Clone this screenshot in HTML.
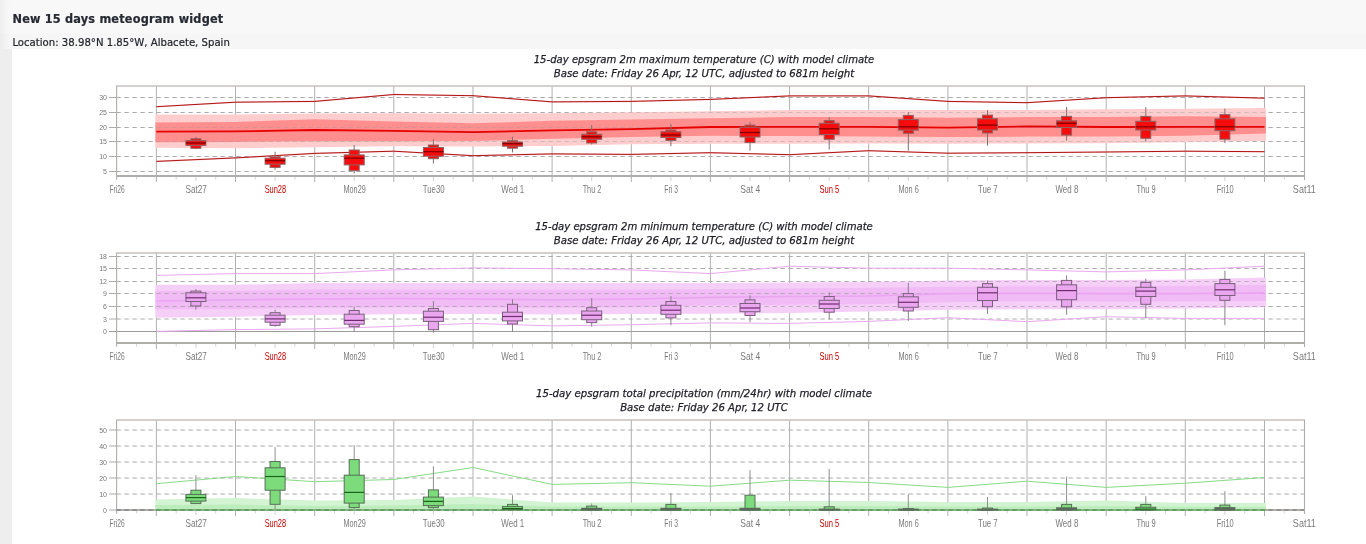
<!DOCTYPE html>
<html lang="en"><head><meta charset="utf-8"><title>New 15 days meteogram widget</title>
<style>
html,body{margin:0;padding:0;}
body{width:1366px;height:544px;overflow:hidden;background:#f0f0f0;position:relative;font-family:"DejaVu Sans","Liberation Sans",sans-serif;}
#hd1{position:absolute;left:0;top:0;width:1366px;height:33px;background:#f8f8f8;}
#hd2{position:absolute;left:0;top:33px;width:1366px;height:16px;background:#f6f6f6;}
#side{position:absolute;left:0;top:48.8px;width:12px;height:496px;background:#eeeeee;}
#shade{position:absolute;left:0;top:0;width:10px;height:48.8px;background:linear-gradient(to right,rgba(0,0,0,0.04),rgba(0,0,0,0));}
#panel{position:absolute;left:12px;top:48.8px;width:1354px;height:496px;background:#fff;}
h1{position:absolute;left:12.5px;top:10.2px;margin:0;font-family:"DejaVu Sans Condensed","DejaVu Sans","Liberation Sans",sans-serif;font-size:12.6px;line-height:18px;font-weight:bold;color:#262a33;white-space:nowrap;letter-spacing:0.18px;-webkit-text-stroke:0.2px #262a33;}
#loc{position:absolute;left:12.4px;top:36px;margin:0;font-size:10.15px;line-height:13px;color:#22252c;white-space:nowrap;-webkit-text-stroke:0.2px #22252c;}
svg{position:absolute;left:0;top:0;}
.t{font-family:"DejaVu Sans","Liberation Sans",sans-serif;font-style:italic;font-size:10.6px;fill:#1c1c26;stroke:#1c1c26;stroke-width:0.25px;text-anchor:middle;}
.xl{font-family:"Liberation Sans",sans-serif;font-size:10.8px;fill:#7a7a7a;text-anchor:middle;}
.xs{fill:#cc0000;}
.yl{font-family:"Liberation Sans",sans-serif;font-size:7px;fill:#777;text-anchor:end;}
</style></head><body>
<div id="hd1"></div><div id="hd2"></div><div id="side"></div><div id="shade"></div><div id="panel"></div>
<h1>New 15 days meteogram widget</h1>
<p id="loc">Location: 38.98°N 1.85°W, Albacete, Spain</p>
<svg width="1366" height="544" viewBox="0 0 1366 544">
<g>
<text class="t" x="704" y="63.0" textLength="340.6" lengthAdjust="spacingAndGlyphs">15-day epsgram 2m maximum temperature (C) with model climate</text>
<text class="t" x="704" y="76.8" textLength="300.6" lengthAdjust="spacingAndGlyphs">Base date: Friday 26 Apr, 12 UTC, adjusted to 681m height</text>
<path d="M156.4 86.0V182.0M235.5 86.0V182.0M314.7 86.0V182.0M393.8 86.0V182.0M473.0 86.0V182.0M552.1 86.0V182.0M631.3 86.0V182.0M710.4 86.0V182.0M789.6 86.0V182.0M868.7 86.0V182.0M947.9 86.0V182.0M1027.0 86.0V182.0M1106.2 86.0V182.0M1185.3 86.0V182.0M1264.5 86.0V182.0" stroke="#b0b0b0" stroke-width="1" fill="none"/>
<path d="M116.4 97.5H1304.0M116.4 112.5H1304.0M116.4 127.5H1304.0M116.4 141.5H1304.0M116.4 156.5H1304.0M116.4 171.5H1304.0" stroke="#acacac" stroke-width="1" stroke-dasharray="4.4 3.6" fill="none"/>
<path d="M109 97.5H116.8M109 112.5H116.8M109 127.5H116.8M109 141.5H116.8M109 156.5H116.8M109 171.5H116.8" stroke="#acacac" stroke-width="1" fill="none"/>
<clipPath id="cb0"><polygon points="155.4,114.6 235.5,114.6 314.7,113.5 393.8,113.3 473.0,113.7 552.1,113.3 631.3,112.3 710.4,111.2 789.6,110.1 868.7,110.0 947.9,110.0 1027.0,110.0 1106.2,109.2 1185.3,108.7 1265.9,108.0 1265.9,140.7 1185.3,142.3 1106.2,143.2 1027.0,143.6 947.9,143.8 868.7,143.6 789.6,143.7 710.4,143.8 631.3,144.2 552.1,146.1 473.0,146.4 393.8,146.3 314.7,147.2 235.5,148.2 155.4,147.8"/></clipPath>
<polygon points="155.4,114.6 235.5,114.6 314.7,113.5 393.8,113.3 473.0,113.7 552.1,113.3 631.3,112.3 710.4,111.2 789.6,110.1 868.7,110.0 947.9,110.0 1027.0,110.0 1106.2,109.2 1185.3,108.7 1265.9,108.0 1265.9,140.7 1185.3,142.3 1106.2,143.2 1027.0,143.6 947.9,143.8 868.7,143.6 789.6,143.7 710.4,143.8 631.3,144.2 552.1,146.1 473.0,146.4 393.8,146.3 314.7,147.2 235.5,148.2 155.4,147.8" fill="#ffcdcd"/>
<polygon points="155.4,122.4 235.5,122.0 314.7,119.3 393.8,121.4 473.0,123.3 552.1,120.8 631.3,119.5 710.4,118.3 789.6,117.1 868.7,117.1 947.9,117.7 1027.0,117.1 1106.2,117.1 1185.3,116.2 1265.9,117.1 1265.9,133.6 1185.3,135.7 1106.2,136.6 1027.0,136.6 947.9,137.0 868.7,136.6 789.6,136.1 710.4,135.7 631.3,137.0 552.1,138.8 473.0,141.1 393.8,141.3 314.7,141.3 235.5,142.0 155.4,142.3" fill="#ff8e8e"/>
<path d="M116.4 97.5H1304.0M116.4 112.5H1304.0M116.4 127.5H1304.0M116.4 141.5H1304.0M116.4 156.5H1304.0M116.4 171.5H1304.0" stroke="#999999" stroke-opacity="0.42" stroke-width="1" stroke-dasharray="4.4 3.6" fill="none" clip-path="url(#cb0)"/>
<polyline points="156.4,131.6 235.5,131.4 314.7,130.0 393.8,130.8 473.0,132.2 552.1,130.4 631.3,129.1 710.4,127.0 789.6,126.9 868.7,126.8 947.9,127.6 1027.0,126.4 1106.2,127.0 1185.3,126.8 1264.5,126.8" stroke="#e60000" stroke-width="1.8" fill="none"/>
<polyline points="156.4,106.7 235.5,102.2 314.7,101.4 393.8,94.5 473.0,95.7 552.1,101.9 631.3,101.4 710.4,99.4 789.6,95.9 868.7,95.9 947.9,101.4 1027.0,102.7 1106.2,97.7 1185.3,95.9 1264.5,98.2" stroke="#f06a6a" stroke-width="1.6" stroke-opacity="0.3" fill="none"/>
<polyline points="156.4,106.7 235.5,102.2 314.7,101.4 393.8,94.5 473.0,95.7 552.1,101.9 631.3,101.4 710.4,99.4 789.6,95.9 868.7,95.9 947.9,101.4 1027.0,102.7 1106.2,97.7 1185.3,95.9 1264.5,98.2" stroke="#b01212" stroke-width="1" fill="none"/>
<polyline points="156.4,161.4 235.5,157.9 314.7,153.4 393.8,151.2 473.0,155.7 552.1,153.9 631.3,154.4 710.4,152.7 789.6,154.7 868.7,150.7 947.9,153.2 1027.0,152.7 1106.2,152.0 1185.3,151.2 1264.5,151.7" stroke="#f06a6a" stroke-width="1.6" stroke-opacity="0.3" fill="none"/>
<polyline points="156.4,161.4 235.5,157.9 314.7,153.4 393.8,151.2 473.0,155.7 552.1,153.9 631.3,154.4 710.4,152.7 789.6,154.7 868.7,150.7 947.9,153.2 1027.0,152.7 1106.2,152.0 1185.3,151.2 1264.5,151.7" stroke="#b01212" stroke-width="1" fill="none"/>
<path d="M116.1 86.0H1305.0" stroke="#c4c0bc" stroke-width="1.6" fill="none"/>
<path d="M116.6 86.0V179.7" stroke="#b0aeaa" stroke-width="1.1" fill="none"/>
<path d="M1304.5 86.0V180.0" stroke="#aeaca8" stroke-width="1.1" fill="none"/>
<path d="M116.1 176.0H1305.0" stroke="#b0aeaa" stroke-width="2" fill="none"/>
<path d="M136.6 177.0v2.5M176.2 177.0v2.5M215.7 177.0v2.5M255.3 177.0v2.5M294.9 177.0v2.5M334.5 177.0v2.5M374.0 177.0v2.5M413.6 177.0v2.5M453.2 177.0v2.5M492.8 177.0v2.5M532.3 177.0v2.5M571.9 177.0v2.5M611.5 177.0v2.5M651.1 177.0v2.5M690.6 177.0v2.5M730.2 177.0v2.5M769.8 177.0v2.5M809.4 177.0v2.5M848.9 177.0v2.5M888.5 177.0v2.5M928.1 177.0v2.5M967.7 177.0v2.5M1007.2 177.0v2.5M1046.8 177.0v2.5M1086.4 177.0v2.5M1126.0 177.0v2.5M1165.5 177.0v2.5M1205.1 177.0v2.5M1244.7 177.0v2.5M1284.3 177.0v2.5M195.9 177.0v4M275.1 177.0v4M354.2 177.0v4M433.4 177.0v4M512.5 177.0v4M591.7 177.0v4M670.9 177.0v4M750.0 177.0v4M829.2 177.0v4M908.3 177.0v4M987.5 177.0v4M1066.6 177.0v4M1145.8 177.0v4M1224.9 177.0v4" stroke="#d2d2d2" stroke-width="1" fill="none"/>
<path d="M195.9 136.8V149.2" stroke="#807070" stroke-width="1" fill="none"/>
<rect x="190.9" y="138.8" width="10" height="9.5" fill="#f60c0c" stroke="#8c6464" stroke-width="1"/>
<rect x="185.9" y="140.7" width="20" height="4.7" fill="#f60c0c" stroke="#8c6464" stroke-width="1"/>
<path d="M185.9 143.0H205.9" stroke="#7a0000" stroke-width="1.2" fill="none"/>
<path d="M275.1 151.7V169.9" stroke="#807070" stroke-width="1" fill="none"/>
<rect x="270.1" y="156.9" width="10" height="10.5" fill="#f60c0c" stroke="#8c6464" stroke-width="1"/>
<rect x="265.1" y="158.2" width="20" height="6.0" fill="#f60c0c" stroke="#8c6464" stroke-width="1"/>
<path d="M265.1 160.7H285.1" stroke="#7a0000" stroke-width="1.2" fill="none"/>
<path d="M354.2 145.0V173.6" stroke="#807070" stroke-width="1" fill="none"/>
<rect x="349.2" y="150.0" width="10" height="20.7" fill="#f60c0c" stroke="#8c6464" stroke-width="1"/>
<rect x="344.2" y="154.9" width="20" height="10.0" fill="#f60c0c" stroke="#8c6464" stroke-width="1"/>
<path d="M344.2 158.2H364.2" stroke="#7a0000" stroke-width="1.2" fill="none"/>
<path d="M433.4 139.3V163.6" stroke="#807070" stroke-width="1" fill="none"/>
<rect x="428.4" y="145.0" width="10" height="13.7" fill="#f60c0c" stroke="#8c6464" stroke-width="1"/>
<rect x="423.4" y="147.5" width="20" height="8.7" fill="#f60c0c" stroke="#8c6464" stroke-width="1"/>
<path d="M423.4 151.7H443.4" stroke="#7a0000" stroke-width="1.2" fill="none"/>
<path d="M512.5 136.8V152.4" stroke="#807070" stroke-width="1" fill="none"/>
<rect x="507.5" y="140.7" width="10" height="7.5" fill="#f60c0c" stroke="#8c6464" stroke-width="1"/>
<rect x="502.5" y="142.0" width="20" height="4.2" fill="#f60c0c" stroke="#8c6464" stroke-width="1"/>
<path d="M502.5 143.7H522.5" stroke="#7a0000" stroke-width="1.2" fill="none"/>
<path d="M591.7 125.1V144.5" stroke="#807070" stroke-width="1" fill="none"/>
<rect x="586.7" y="131.8" width="10" height="11.2" fill="#f60c0c" stroke="#8c6464" stroke-width="1"/>
<rect x="581.7" y="134.3" width="20" height="5.0" fill="#f60c0c" stroke="#8c6464" stroke-width="1"/>
<path d="M581.7 136.8H601.7" stroke="#7a0000" stroke-width="1.2" fill="none"/>
<path d="M670.9 123.8V146.2" stroke="#807070" stroke-width="1" fill="none"/>
<rect x="665.9" y="130.0" width="10" height="10.5" fill="#f60c0c" stroke="#8c6464" stroke-width="1"/>
<rect x="660.9" y="131.8" width="20" height="5.7" fill="#f60c0c" stroke="#8c6464" stroke-width="1"/>
<path d="M660.9 135.0H680.9" stroke="#7a0000" stroke-width="1.2" fill="none"/>
<path d="M750.0 122.1V150.7" stroke="#807070" stroke-width="1" fill="none"/>
<rect x="745.0" y="125.1" width="10" height="17.4" fill="#f60c0c" stroke="#8c6464" stroke-width="1"/>
<rect x="740.0" y="127.3" width="20" height="9.7" fill="#f60c0c" stroke="#8c6464" stroke-width="1"/>
<path d="M740.0 132.5H760.0" stroke="#7a0000" stroke-width="1.2" fill="none"/>
<path d="M829.2 117.1V149.5" stroke="#807070" stroke-width="1" fill="none"/>
<rect x="824.2" y="120.6" width="10" height="18.7" fill="#f60c0c" stroke="#8c6464" stroke-width="1"/>
<rect x="819.2" y="123.3" width="20" height="11.2" fill="#f60c0c" stroke="#8c6464" stroke-width="1"/>
<path d="M819.2 128.8H839.2" stroke="#7a0000" stroke-width="1.2" fill="none"/>
<path d="M908.3 112.1V150.7" stroke="#807070" stroke-width="1" fill="none"/>
<rect x="903.3" y="115.4" width="10" height="17.9" fill="#f60c0c" stroke="#8c6464" stroke-width="1"/>
<rect x="898.3" y="119.6" width="20" height="10.5" fill="#f60c0c" stroke="#8c6464" stroke-width="1"/>
<path d="M898.3 126.8H918.3" stroke="#7a0000" stroke-width="1.2" fill="none"/>
<path d="M987.5 110.1V145.7" stroke="#807070" stroke-width="1" fill="none"/>
<rect x="982.5" y="115.1" width="10" height="17.9" fill="#f60c0c" stroke="#8c6464" stroke-width="1"/>
<rect x="977.5" y="118.8" width="20" height="11.2" fill="#f60c0c" stroke="#8c6464" stroke-width="1"/>
<path d="M977.5 125.1H997.5" stroke="#7a0000" stroke-width="1.2" fill="none"/>
<path d="M1066.6 106.9V140.7" stroke="#807070" stroke-width="1" fill="none"/>
<rect x="1061.6" y="116.4" width="10" height="18.7" fill="#f60c0c" stroke="#8c6464" stroke-width="1"/>
<rect x="1056.6" y="120.8" width="20" height="6.7" fill="#f60c0c" stroke="#8c6464" stroke-width="1"/>
<path d="M1056.6 123.3H1076.6" stroke="#7a0000" stroke-width="1.2" fill="none"/>
<path d="M1145.8 107.1V141.7" stroke="#807070" stroke-width="1" fill="none"/>
<rect x="1140.8" y="116.4" width="10" height="21.9" fill="#f60c0c" stroke="#8c6464" stroke-width="1"/>
<rect x="1135.8" y="121.3" width="20" height="8.7" fill="#f60c0c" stroke="#8c6464" stroke-width="1"/>
<path d="M1135.8 126.8H1155.8" stroke="#7a0000" stroke-width="1.2" fill="none"/>
<path d="M1224.9 108.6V143.0" stroke="#807070" stroke-width="1" fill="none"/>
<rect x="1219.9" y="114.6" width="10" height="24.6" fill="#f60c0c" stroke="#8c6464" stroke-width="1"/>
<rect x="1214.9" y="118.8" width="20" height="11.9" fill="#f60c0c" stroke="#8c6464" stroke-width="1"/>
<path d="M1214.9 126.8H1234.9" stroke="#7a0000" stroke-width="1.2" fill="none"/>
<text class="xl" transform="translate(117.1 192.8) scale(0.618 1)">Fri26</text>
<text class="xl" transform="translate(196.2 192.8) scale(0.758 1)">Sat27</text>
<text class="xl xs" transform="translate(275.4 192.8) scale(0.688 1)">Sun28</text>
<text class="xl" transform="translate(354.6 192.8) scale(0.675 1)">Mon29</text>
<text class="xl" transform="translate(433.7 192.8) scale(0.725 1)">Tue30</text>
<text class="xl" transform="translate(512.8 192.8) scale(0.738 1)">Wed 1</text>
<text class="xl" transform="translate(592.0 192.8) scale(0.677 1)">Thu 2</text>
<text class="xl" transform="translate(671.1 192.8) scale(0.634 1)">Fri 3</text>
<text class="xl" transform="translate(750.3 192.8) scale(0.789 1)">Sat 4</text>
<text class="xl xs" transform="translate(829.4 192.8) scale(0.705 1)">Sun 5</text>
<text class="xl" transform="translate(908.6 192.8) scale(0.680 1)">Mon 6</text>
<text class="xl" transform="translate(987.8 192.8) scale(0.731 1)">Tue 7</text>
<text class="xl" transform="translate(1066.9 192.8) scale(0.738 1)">Wed 8</text>
<text class="xl" transform="translate(1146.0 192.8) scale(0.695 1)">Thu 9</text>
<text class="xl" transform="translate(1225.2 192.8) scale(0.687 1)">Fri10</text>
<text class="xl" transform="translate(1304.3 192.8) scale(0.835 1)">Sat11</text>
<text class="yl" x="107" y="100.1">30</text>
<text class="yl" x="107" y="115.1">25</text>
<text class="yl" x="107" y="130.1">20</text>
<text class="yl" x="107" y="144.1">15</text>
<text class="yl" x="107" y="159.1">10</text>
<text class="yl" x="107" y="174.1">5</text>
</g>
<g>
<text class="t" x="704" y="229.9" textLength="337.6" lengthAdjust="spacingAndGlyphs">15-day epsgram 2m minimum temperature (C) with model climate</text>
<text class="t" x="704" y="243.7" textLength="300.6" lengthAdjust="spacingAndGlyphs">Base date: Friday 26 Apr, 12 UTC, adjusted to 681m height</text>
<path d="M156.4 253.0V349.0M235.5 253.0V349.0M314.7 253.0V349.0M393.8 253.0V349.0M473.0 253.0V349.0M552.1 253.0V349.0M631.3 253.0V349.0M710.4 253.0V349.0M789.6 253.0V349.0M868.7 253.0V349.0M947.9 253.0V349.0M1027.0 253.0V349.0M1106.2 253.0V349.0M1185.3 253.0V349.0M1264.5 253.0V349.0" stroke="#b0b0b0" stroke-width="1" fill="none"/>
<path d="M116.4 256.5H1304.0M116.4 268.5H1304.0M116.4 281.5H1304.0M116.4 293.5H1304.0M116.4 306.5H1304.0M116.4 319.0H1304.0" stroke="#acacac" stroke-width="1" stroke-dasharray="4.4 3.6" fill="none"/>
<path d="M109 256.5H116.8M109 268.5H116.8M109 281.5H116.8M109 293.5H116.8M109 306.5H116.8M109 319.0H116.8" stroke="#acacac" stroke-width="1" fill="none"/>
<path d="M109 331.5H1304.0" stroke="#9c9c9c" stroke-width="1" fill="none"/>
<clipPath id="cb1"><polygon points="155.4,284.8 235.5,284.8 314.7,283.1 393.8,283.1 473.0,283.1 552.1,283.1 631.3,283.1 710.4,283.1 789.6,282.4 868.7,281.9 947.9,280.4 1027.0,279.9 1106.2,279.9 1185.3,279.4 1265.9,277.4 1265.9,307.2 1185.3,308.5 1106.2,309.2 1027.0,309.2 947.9,309.7 868.7,311.5 789.6,313.1 710.4,313.7 631.3,314.1 552.1,314.5 473.0,314.1 393.8,314.3 314.7,314.9 235.5,316.8 155.4,317.8"/></clipPath>
<polygon points="155.4,284.8 235.5,284.8 314.7,283.1 393.8,283.1 473.0,283.1 552.1,283.1 631.3,283.1 710.4,283.1 789.6,282.4 868.7,281.9 947.9,280.4 1027.0,279.9 1106.2,279.9 1185.3,279.4 1265.9,277.4 1265.9,307.2 1185.3,308.5 1106.2,309.2 1027.0,309.2 947.9,309.7 868.7,311.5 789.6,313.1 710.4,313.7 631.3,314.1 552.1,314.5 473.0,314.1 393.8,314.3 314.7,314.9 235.5,316.8 155.4,317.8" fill="#f6cff9"/>
<polygon points="155.4,290.8 235.5,290.8 314.7,289.6 393.8,289.8 473.0,289.8 552.1,289.8 631.3,289.8 710.4,289.3 789.6,288.6 868.7,287.8 947.9,286.8 1027.0,286.3 1106.2,286.8 1185.3,286.1 1265.9,284.8 1265.9,301.0 1185.3,301.5 1106.2,301.8 1027.0,301.3 947.9,302.3 868.7,304.3 789.6,304.8 710.4,305.3 631.3,307.2 552.1,307.7 473.0,307.2 393.8,307.2 314.7,308.0 235.5,309.0 155.4,309.2" fill="#f1bbf5"/>
<path d="M116.4 256.5H1304.0M116.4 268.5H1304.0M116.4 281.5H1304.0M116.4 293.5H1304.0M116.4 306.5H1304.0M116.4 319.0H1304.0" stroke="#999999" stroke-opacity="0.62" stroke-width="1" stroke-dasharray="4.4 3.6" fill="none" clip-path="url(#cb1)"/>
<polyline points="156.4,301.0 235.5,299.8 314.7,299.0 393.8,298.5 473.0,299.0 552.1,299.8 631.3,299.0 710.4,297.3 789.6,296.5 868.7,296.0 947.9,293.6 1027.0,293.3 1106.2,293.6 1185.3,293.6 1264.5,292.8" stroke="#eaa6f0" stroke-width="1.7" fill="none"/>
<polyline points="156.4,275.4 235.5,273.6 314.7,273.6 393.8,269.9 473.0,267.9 552.1,268.7 631.3,269.9 710.4,273.6 789.6,266.2 868.7,268.2 947.9,268.2 1027.0,269.9 1106.2,271.9 1185.3,269.9 1264.5,266.2" stroke="#e9a9ee" stroke-width="1" fill="none"/>
<polyline points="156.4,331.4 235.5,329.6 314.7,328.9 393.8,326.4 473.0,323.4 552.1,325.9 631.3,324.7 710.4,322.9 789.6,323.4 868.7,321.4 947.9,317.7 1027.0,321.7 1106.2,316.7 1185.3,318.4 1264.5,318.4" stroke="#e9a9ee" stroke-width="1" fill="none"/>
<path d="M116.1 253.0H1305.0" stroke="#c4c0bc" stroke-width="1.6" fill="none"/>
<path d="M116.6 253.0V346.7" stroke="#b0aeaa" stroke-width="1.1" fill="none"/>
<path d="M1304.5 253.0V347.0" stroke="#aeaca8" stroke-width="1.1" fill="none"/>
<path d="M116.1 343.0H1305.0" stroke="#b0aeaa" stroke-width="2" fill="none"/>
<path d="M136.6 344.0v2.5M176.2 344.0v2.5M215.7 344.0v2.5M255.3 344.0v2.5M294.9 344.0v2.5M334.5 344.0v2.5M374.0 344.0v2.5M413.6 344.0v2.5M453.2 344.0v2.5M492.8 344.0v2.5M532.3 344.0v2.5M571.9 344.0v2.5M611.5 344.0v2.5M651.1 344.0v2.5M690.6 344.0v2.5M730.2 344.0v2.5M769.8 344.0v2.5M809.4 344.0v2.5M848.9 344.0v2.5M888.5 344.0v2.5M928.1 344.0v2.5M967.7 344.0v2.5M1007.2 344.0v2.5M1046.8 344.0v2.5M1086.4 344.0v2.5M1126.0 344.0v2.5M1165.5 344.0v2.5M1205.1 344.0v2.5M1244.7 344.0v2.5M1284.3 344.0v2.5M195.9 344.0v4M275.1 344.0v4M354.2 344.0v4M433.4 344.0v4M512.5 344.0v4M591.7 344.0v4M670.9 344.0v4M750.0 344.0v4M829.2 344.0v4M908.3 344.0v4M987.5 344.0v4M1066.6 344.0v4M1145.8 344.0v4M1224.9 344.0v4" stroke="#d2d2d2" stroke-width="1" fill="none"/>
<path d="M195.9 289.1V309.7" stroke="#8a808a" stroke-width="1" fill="none"/>
<rect x="190.9" y="291.1" width="10" height="14.9" fill="#eba6f0" stroke="#7a607c" stroke-width="1"/>
<rect x="185.9" y="292.8" width="20" height="8.7" fill="#eba6f0" stroke="#7a607c" stroke-width="1"/>
<path d="M185.9 297.8H205.9" stroke="#6e2e6e" stroke-width="1.2" fill="none"/>
<path d="M275.1 309.7V326.7" stroke="#8a808a" stroke-width="1" fill="none"/>
<rect x="270.1" y="312.7" width="10" height="12.7" fill="#eba6f0" stroke="#7a607c" stroke-width="1"/>
<rect x="265.1" y="315.2" width="20" height="7.0" fill="#eba6f0" stroke="#7a607c" stroke-width="1"/>
<path d="M265.1 318.9H285.1" stroke="#6e2e6e" stroke-width="1.2" fill="none"/>
<path d="M354.2 306.7V331.4" stroke="#8a808a" stroke-width="1" fill="none"/>
<rect x="349.2" y="310.5" width="10" height="16.2" fill="#eba6f0" stroke="#7a607c" stroke-width="1"/>
<rect x="344.2" y="314.2" width="20" height="10.0" fill="#eba6f0" stroke="#7a607c" stroke-width="1"/>
<path d="M344.2 320.4H364.2" stroke="#6e2e6e" stroke-width="1.2" fill="none"/>
<path d="M433.4 301.0V332.6" stroke="#8a808a" stroke-width="1" fill="none"/>
<rect x="428.4" y="308.5" width="10" height="21.2" fill="#eba6f0" stroke="#7a607c" stroke-width="1"/>
<rect x="423.4" y="311.2" width="20" height="10.2" fill="#eba6f0" stroke="#7a607c" stroke-width="1"/>
<path d="M423.4 317.2H443.4" stroke="#6e2e6e" stroke-width="1.2" fill="none"/>
<path d="M512.5 299.3V331.6" stroke="#8a808a" stroke-width="1" fill="none"/>
<rect x="507.5" y="304.3" width="10" height="19.7" fill="#eba6f0" stroke="#7a607c" stroke-width="1"/>
<rect x="502.5" y="312.2" width="20" height="8.7" fill="#eba6f0" stroke="#7a607c" stroke-width="1"/>
<path d="M502.5 316.5H522.5" stroke="#6e2e6e" stroke-width="1.2" fill="none"/>
<path d="M591.7 298.0V326.7" stroke="#8a808a" stroke-width="1" fill="none"/>
<rect x="586.7" y="307.7" width="10" height="14.9" fill="#eba6f0" stroke="#7a607c" stroke-width="1"/>
<rect x="581.7" y="311.0" width="20" height="8.7" fill="#eba6f0" stroke="#7a607c" stroke-width="1"/>
<path d="M581.7 315.2H601.7" stroke="#6e2e6e" stroke-width="1.2" fill="none"/>
<path d="M670.9 296.0V325.2" stroke="#8a808a" stroke-width="1" fill="none"/>
<rect x="665.9" y="301.5" width="10" height="16.4" fill="#eba6f0" stroke="#7a607c" stroke-width="1"/>
<rect x="660.9" y="305.3" width="20" height="9.0" fill="#eba6f0" stroke="#7a607c" stroke-width="1"/>
<path d="M660.9 310.2H680.9" stroke="#6e2e6e" stroke-width="1.2" fill="none"/>
<path d="M750.0 295.3V322.2" stroke="#8a808a" stroke-width="1" fill="none"/>
<rect x="745.0" y="299.8" width="10" height="15.7" fill="#eba6f0" stroke="#7a607c" stroke-width="1"/>
<rect x="740.0" y="303.5" width="20" height="8.2" fill="#eba6f0" stroke="#7a607c" stroke-width="1"/>
<path d="M740.0 308.0H760.0" stroke="#6e2e6e" stroke-width="1.2" fill="none"/>
<path d="M829.2 292.3V319.7" stroke="#8a808a" stroke-width="1" fill="none"/>
<rect x="824.2" y="296.5" width="10" height="15.7" fill="#eba6f0" stroke="#7a607c" stroke-width="1"/>
<rect x="819.2" y="300.3" width="20" height="8.2" fill="#eba6f0" stroke="#7a607c" stroke-width="1"/>
<path d="M819.2 304.0H839.2" stroke="#6e2e6e" stroke-width="1.2" fill="none"/>
<path d="M908.3 282.9V320.9" stroke="#8a808a" stroke-width="1" fill="none"/>
<rect x="903.3" y="293.6" width="10" height="17.4" fill="#eba6f0" stroke="#7a607c" stroke-width="1"/>
<rect x="898.3" y="296.8" width="20" height="10.5" fill="#eba6f0" stroke="#7a607c" stroke-width="1"/>
<path d="M898.3 302.3H918.3" stroke="#6e2e6e" stroke-width="1.2" fill="none"/>
<path d="M987.5 280.4V314.0" stroke="#8a808a" stroke-width="1" fill="none"/>
<rect x="982.5" y="283.6" width="10" height="23.1" fill="#eba6f0" stroke="#7a607c" stroke-width="1"/>
<rect x="977.5" y="287.3" width="20" height="13.2" fill="#eba6f0" stroke="#7a607c" stroke-width="1"/>
<path d="M977.5 292.8H997.5" stroke="#6e2e6e" stroke-width="1.2" fill="none"/>
<path d="M1066.6 275.4V314.7" stroke="#8a808a" stroke-width="1" fill="none"/>
<rect x="1061.6" y="280.4" width="10" height="26.4" fill="#eba6f0" stroke="#7a607c" stroke-width="1"/>
<rect x="1056.6" y="284.8" width="20" height="14.9" fill="#eba6f0" stroke="#7a607c" stroke-width="1"/>
<path d="M1056.6 290.6H1076.6" stroke="#6e2e6e" stroke-width="1.2" fill="none"/>
<path d="M1145.8 278.6V318.4" stroke="#8a808a" stroke-width="1" fill="none"/>
<rect x="1140.8" y="282.4" width="10" height="21.9" fill="#eba6f0" stroke="#7a607c" stroke-width="1"/>
<rect x="1135.8" y="287.3" width="20" height="9.2" fill="#eba6f0" stroke="#7a607c" stroke-width="1"/>
<path d="M1135.8 291.1H1155.8" stroke="#6e2e6e" stroke-width="1.2" fill="none"/>
<path d="M1224.9 270.7V325.2" stroke="#8a808a" stroke-width="1" fill="none"/>
<rect x="1219.9" y="279.4" width="10" height="20.9" fill="#eba6f0" stroke="#7a607c" stroke-width="1"/>
<rect x="1214.9" y="283.6" width="20" height="11.9" fill="#eba6f0" stroke="#7a607c" stroke-width="1"/>
<path d="M1214.9 289.8H1234.9" stroke="#6e2e6e" stroke-width="1.2" fill="none"/>
<text class="xl" transform="translate(117.1 359.8) scale(0.618 1)">Fri26</text>
<text class="xl" transform="translate(196.2 359.8) scale(0.758 1)">Sat27</text>
<text class="xl xs" transform="translate(275.4 359.8) scale(0.688 1)">Sun28</text>
<text class="xl" transform="translate(354.6 359.8) scale(0.675 1)">Mon29</text>
<text class="xl" transform="translate(433.7 359.8) scale(0.725 1)">Tue30</text>
<text class="xl" transform="translate(512.8 359.8) scale(0.738 1)">Wed 1</text>
<text class="xl" transform="translate(592.0 359.8) scale(0.677 1)">Thu 2</text>
<text class="xl" transform="translate(671.1 359.8) scale(0.634 1)">Fri 3</text>
<text class="xl" transform="translate(750.3 359.8) scale(0.789 1)">Sat 4</text>
<text class="xl xs" transform="translate(829.4 359.8) scale(0.705 1)">Sun 5</text>
<text class="xl" transform="translate(908.6 359.8) scale(0.680 1)">Mon 6</text>
<text class="xl" transform="translate(987.8 359.8) scale(0.731 1)">Tue 7</text>
<text class="xl" transform="translate(1066.9 359.8) scale(0.738 1)">Wed 8</text>
<text class="xl" transform="translate(1146.0 359.8) scale(0.695 1)">Thu 9</text>
<text class="xl" transform="translate(1225.2 359.8) scale(0.687 1)">Fri10</text>
<text class="xl" transform="translate(1304.3 359.8) scale(0.835 1)">Sat11</text>
<text class="yl" x="107" y="259.1">18</text>
<text class="yl" x="107" y="271.1">15</text>
<text class="yl" x="107" y="284.1">12</text>
<text class="yl" x="107" y="296.1">9</text>
<text class="yl" x="107" y="309.1">6</text>
<text class="yl" x="107" y="321.6">3</text>
<text class="yl" x="107" y="334.1">0</text>
</g>
<g>
<text class="t" x="704" y="396.8" textLength="336.0" lengthAdjust="spacingAndGlyphs">15-day epsgram total precipitation (mm/24hr) with model climate</text>
<text class="t" x="704" y="410.7" textLength="167.6" lengthAdjust="spacingAndGlyphs">Base date: Friday 26 Apr, 12 UTC</text>
<path d="M156.4 420.0V516.0M235.5 420.0V516.0M314.7 420.0V516.0M393.8 420.0V516.0M473.0 420.0V516.0M552.1 420.0V516.0M631.3 420.0V516.0M710.4 420.0V516.0M789.6 420.0V516.0M868.7 420.0V516.0M947.9 420.0V516.0M1027.0 420.0V516.0M1106.2 420.0V516.0M1185.3 420.0V516.0M1264.5 420.0V516.0" stroke="#b0b0b0" stroke-width="1" fill="none"/>
<path d="M116.4 430.0H1304.0M116.4 446.0H1304.0M116.4 462.0H1304.0M116.4 478.0H1304.0M116.4 494.0H1304.0" stroke="#aaaaaa" stroke-width="1" stroke-dasharray="4.4 3.6" fill="none"/>
<path d="M109 430.0H116.8M109 446.0H116.8M109 462.0H116.8M109 478.0H116.8M109 494.0H116.8" stroke="#aaaaaa" stroke-width="1" fill="none"/>
<path d="M109 510.0H116.8" stroke="#aaaaaa" stroke-width="1" fill="none"/>
<clipPath id="cb2"><polygon points="155.4,499.4 235.5,498.1 314.7,500.6 393.8,499.9 473.0,496.4 552.1,502.6 631.3,502.4 710.4,501.9 789.6,501.1 868.7,501.1 947.9,501.9 1027.0,501.9 1106.2,500.6 1185.3,503.1 1265.9,503.1 1265.9,510.1 1185.3,510.1 1106.2,510.1 1027.0,510.1 947.9,510.1 868.7,510.1 789.6,510.1 710.4,510.1 631.3,510.1 552.1,510.1 473.0,510.1 393.8,510.1 314.7,510.1 235.5,510.1 155.4,510.1"/></clipPath>
<polygon points="155.4,499.4 235.5,498.1 314.7,500.6 393.8,499.9 473.0,496.4 552.1,502.6 631.3,502.4 710.4,501.9 789.6,501.1 868.7,501.1 947.9,501.9 1027.0,501.9 1106.2,500.6 1185.3,503.1 1265.9,503.1 1265.9,510.1 1185.3,510.1 1106.2,510.1 1027.0,510.1 947.9,510.1 868.7,510.1 789.6,510.1 710.4,510.1 631.3,510.1 552.1,510.1 473.0,510.1 393.8,510.1 314.7,510.1 235.5,510.1 155.4,510.1" fill="#d2f4d2"/>
<polygon points="155.4,505.1 235.5,504.6 314.7,505.9 393.8,505.6 473.0,503.9 552.1,506.6 631.3,506.6 710.4,506.4 789.6,506.1 868.7,506.1 947.9,506.4 1027.0,506.4 1106.2,505.9 1185.3,506.8 1265.9,506.8 1265.9,510.1 1185.3,510.1 1106.2,510.1 1027.0,510.1 947.9,510.1 868.7,510.1 789.6,510.1 710.4,510.1 631.3,510.1 552.1,510.1 473.0,510.1 393.8,510.1 314.7,510.1 235.5,510.1 155.4,510.1" fill="#bdedbd"/>
<path d="M116.4 430.0H1304.0M116.4 446.0H1304.0M116.4 462.0H1304.0M116.4 478.0H1304.0M116.4 494.0H1304.0" stroke="#999999" stroke-opacity="0.42" stroke-width="1" stroke-dasharray="4.4 3.6" fill="none" clip-path="url(#cb2)"/>
<polyline points="156.4,510.1 235.5,510.1 314.7,510.1 393.8,510.1 473.0,510.1 552.1,510.1 631.3,510.1 710.4,510.1 789.6,510.1 868.7,510.1 947.9,510.1 1027.0,510.1 1106.2,510.1 1185.3,510.1 1264.5,510.1" stroke="#5a9e5a" stroke-width="1.8" fill="none"/>
<polyline points="156.4,483.7 235.5,476.5 314.7,481.7 393.8,479.5 473.0,467.5 552.1,484.4 631.3,482.7 710.4,486.2 789.6,480.2 868.7,482.5 947.9,487.4 1027.0,481.2 1106.2,487.4 1185.3,483.2 1264.5,477.5" stroke="#86dc86" stroke-width="1" fill="none"/>
<path d="M116.1 420.0H1305.0" stroke="#c4c0bc" stroke-width="1.6" fill="none"/>
<path d="M116.6 420.0V513.7" stroke="#b0aeaa" stroke-width="1.1" fill="none"/>
<path d="M1304.5 420.0V514.0" stroke="#aeaca8" stroke-width="1.1" fill="none"/>
<path d="M116.1 510.0H1305.0" stroke="#b0aeaa" stroke-width="2" fill="none"/>
<path d="M116.1 510.0H1304.0" stroke="#b0aeaa" stroke-width="1.3" fill="none"/>
<path d="M116.4 510.0H1304.0" stroke="#8c8884" stroke-width="1.3" stroke-dasharray="4.4 3.6" fill="none"/>
<path d="M155.4 509.9H1265.9" stroke="#76b676" stroke-width="1.5" fill="none"/>
<path d="M116.4 509.9H1265.9" stroke="#5c9c5c" stroke-width="1.5" stroke-dasharray="4.4 3.6" fill="none"/>
<path d="M116.1 510.0H155.4" stroke="#b0aeaa" stroke-width="1.3" fill="none"/>
<path d="M116.4 510.0H155.4" stroke="#8c8884" stroke-width="1.3" stroke-dasharray="4.4 3.6" fill="none"/>
<path d="M136.6 511.0v2.5M176.2 511.0v2.5M215.7 511.0v2.5M255.3 511.0v2.5M294.9 511.0v2.5M334.5 511.0v2.5M374.0 511.0v2.5M413.6 511.0v2.5M453.2 511.0v2.5M492.8 511.0v2.5M532.3 511.0v2.5M571.9 511.0v2.5M611.5 511.0v2.5M651.1 511.0v2.5M690.6 511.0v2.5M730.2 511.0v2.5M769.8 511.0v2.5M809.4 511.0v2.5M848.9 511.0v2.5M888.5 511.0v2.5M928.1 511.0v2.5M967.7 511.0v2.5M1007.2 511.0v2.5M1046.8 511.0v2.5M1086.4 511.0v2.5M1126.0 511.0v2.5M1165.5 511.0v2.5M1205.1 511.0v2.5M1244.7 511.0v2.5M1284.3 511.0v2.5M195.9 511.0v4M275.1 511.0v4M354.2 511.0v4M433.4 511.0v4M512.5 511.0v4M591.7 511.0v4M670.9 511.0v4M750.0 511.0v4M829.2 511.0v4M908.3 511.0v4M987.5 511.0v4M1066.6 511.0v4M1145.8 511.0v4M1224.9 511.0v4" stroke="#d2d2d2" stroke-width="1" fill="none"/>
<path d="M195.9 475.2V503.6" stroke="#8c908c" stroke-width="1" fill="none"/>
<rect x="190.9" y="490.2" width="10" height="13.4" fill="#7cdc7c" stroke="#566e56" stroke-width="1"/>
<rect x="185.9" y="494.4" width="20" height="6.7" fill="#7cdc7c" stroke="#566e56" stroke-width="1"/>
<path d="M185.9 497.6H205.9" stroke="#1a641a" stroke-width="1.2" fill="none"/>
<path d="M275.1 447.1V509.3" stroke="#8c908c" stroke-width="1" fill="none"/>
<rect x="270.1" y="461.5" width="10" height="42.8" fill="#7cdc7c" stroke="#566e56" stroke-width="1"/>
<rect x="265.1" y="467.8" width="20" height="22.4" fill="#7cdc7c" stroke="#566e56" stroke-width="1"/>
<path d="M265.1 476.5H285.1" stroke="#1a641a" stroke-width="1.2" fill="none"/>
<path d="M354.2 445.1V509.3" stroke="#8c908c" stroke-width="1" fill="none"/>
<rect x="349.2" y="459.6" width="10" height="48.0" fill="#7cdc7c" stroke="#566e56" stroke-width="1"/>
<rect x="344.2" y="475.2" width="20" height="27.9" fill="#7cdc7c" stroke="#566e56" stroke-width="1"/>
<path d="M344.2 492.4H364.2" stroke="#1a641a" stroke-width="1.2" fill="none"/>
<path d="M433.4 466.3V509.3" stroke="#8c908c" stroke-width="1" fill="none"/>
<rect x="428.4" y="489.9" width="10" height="17.7" fill="#7cdc7c" stroke="#566e56" stroke-width="1"/>
<rect x="423.4" y="497.1" width="20" height="8.5" fill="#7cdc7c" stroke="#566e56" stroke-width="1"/>
<path d="M423.4 501.4H443.4" stroke="#1a641a" stroke-width="1.2" fill="none"/>
<path d="M512.5 495.2V509.6" stroke="#8c908c" stroke-width="1" fill="none"/>
<rect x="507.5" y="504.4" width="10" height="5.2" fill="#7cdc7c" stroke="#566e56" stroke-width="1"/>
<rect x="502.5" y="506.6" width="20" height="3.0" fill="#7cdc7c" stroke="#566e56" stroke-width="1"/>
<path d="M502.5 508.6H522.5" stroke="#1a641a" stroke-width="1.2" fill="none"/>
<path d="M591.7 503.6V510.1" stroke="#8c908c" stroke-width="1" fill="none"/>
<rect x="586.7" y="506.1" width="10" height="4.0" fill="#7cdc7c" stroke="#566e56" stroke-width="1"/>
<rect x="581.2" y="507.8" width="21" height="2.7" fill="#5a6a5a"/>
<path d="M670.9 493.2V510.1" stroke="#8c908c" stroke-width="1" fill="none"/>
<rect x="665.9" y="504.4" width="10" height="5.7" fill="#7cdc7c" stroke="#566e56" stroke-width="1"/>
<rect x="660.4" y="507.8" width="21" height="2.7" fill="#5a6a5a"/>
<path d="M750.0 470.0V510.1" stroke="#8c908c" stroke-width="1" fill="none"/>
<rect x="745.0" y="495.2" width="10" height="14.9" fill="#7cdc7c" stroke="#566e56" stroke-width="1"/>
<rect x="739.5" y="507.8" width="21" height="2.7" fill="#5a6a5a"/>
<path d="M829.2 469.0V510.1" stroke="#8c908c" stroke-width="1" fill="none"/>
<rect x="824.2" y="506.8" width="10" height="3.2" fill="#7cdc7c" stroke="#566e56" stroke-width="1"/>
<rect x="818.7" y="508.6" width="21" height="2.0" fill="#5a6a5a"/>
<path d="M908.3 494.4V510.1" stroke="#8c908c" stroke-width="1" fill="none"/>
<rect x="903.3" y="508.6" width="10" height="1.5" fill="#7cdc7c" stroke="#566e56" stroke-width="1"/>
<rect x="897.8" y="508.6" width="21" height="2.0" fill="#5a6a5a"/>
<path d="M987.5 496.9V510.1" stroke="#8c908c" stroke-width="1" fill="none"/>
<rect x="982.5" y="508.1" width="10" height="2.0" fill="#7cdc7c" stroke="#566e56" stroke-width="1"/>
<rect x="977.0" y="508.6" width="21" height="2.0" fill="#5a6a5a"/>
<path d="M1066.6 476.5V510.1" stroke="#8c908c" stroke-width="1" fill="none"/>
<rect x="1061.6" y="504.4" width="10" height="5.7" fill="#7cdc7c" stroke="#566e56" stroke-width="1"/>
<rect x="1056.1" y="507.3" width="21" height="3.2" fill="#5a6a5a"/>
<path d="M1145.8 496.1V510.1" stroke="#8c908c" stroke-width="1" fill="none"/>
<rect x="1140.8" y="504.4" width="10" height="5.7" fill="#7cdc7c" stroke="#566e56" stroke-width="1"/>
<rect x="1135.8" y="507.3" width="20" height="2.7" fill="#7cdc7c" stroke="#566e56" stroke-width="1"/>
<path d="M1135.8 509.1H1155.8" stroke="#1a641a" stroke-width="1.2" fill="none"/>
<path d="M1224.9 491.2V510.1" stroke="#8c908c" stroke-width="1" fill="none"/>
<rect x="1219.9" y="505.1" width="10" height="5.0" fill="#7cdc7c" stroke="#566e56" stroke-width="1"/>
<rect x="1214.4" y="507.1" width="21" height="3.5" fill="#5a6a5a"/>
<text class="xl" transform="translate(117.1 526.8) scale(0.618 1)">Fri26</text>
<text class="xl" transform="translate(196.2 526.8) scale(0.758 1)">Sat27</text>
<text class="xl xs" transform="translate(275.4 526.8) scale(0.688 1)">Sun28</text>
<text class="xl" transform="translate(354.6 526.8) scale(0.675 1)">Mon29</text>
<text class="xl" transform="translate(433.7 526.8) scale(0.725 1)">Tue30</text>
<text class="xl" transform="translate(512.8 526.8) scale(0.738 1)">Wed 1</text>
<text class="xl" transform="translate(592.0 526.8) scale(0.677 1)">Thu 2</text>
<text class="xl" transform="translate(671.1 526.8) scale(0.634 1)">Fri 3</text>
<text class="xl" transform="translate(750.3 526.8) scale(0.789 1)">Sat 4</text>
<text class="xl xs" transform="translate(829.4 526.8) scale(0.705 1)">Sun 5</text>
<text class="xl" transform="translate(908.6 526.8) scale(0.680 1)">Mon 6</text>
<text class="xl" transform="translate(987.8 526.8) scale(0.731 1)">Tue 7</text>
<text class="xl" transform="translate(1066.9 526.8) scale(0.738 1)">Wed 8</text>
<text class="xl" transform="translate(1146.0 526.8) scale(0.695 1)">Thu 9</text>
<text class="xl" transform="translate(1225.2 526.8) scale(0.687 1)">Fri10</text>
<text class="xl" transform="translate(1304.3 526.8) scale(0.835 1)">Sat11</text>
<text class="yl" x="107" y="432.6">50</text>
<text class="yl" x="107" y="448.6">40</text>
<text class="yl" x="107" y="464.6">30</text>
<text class="yl" x="107" y="480.6">20</text>
<text class="yl" x="107" y="496.6">10</text>
<text class="yl" x="107" y="512.6">0</text>
</g>
</svg>
</body></html>
